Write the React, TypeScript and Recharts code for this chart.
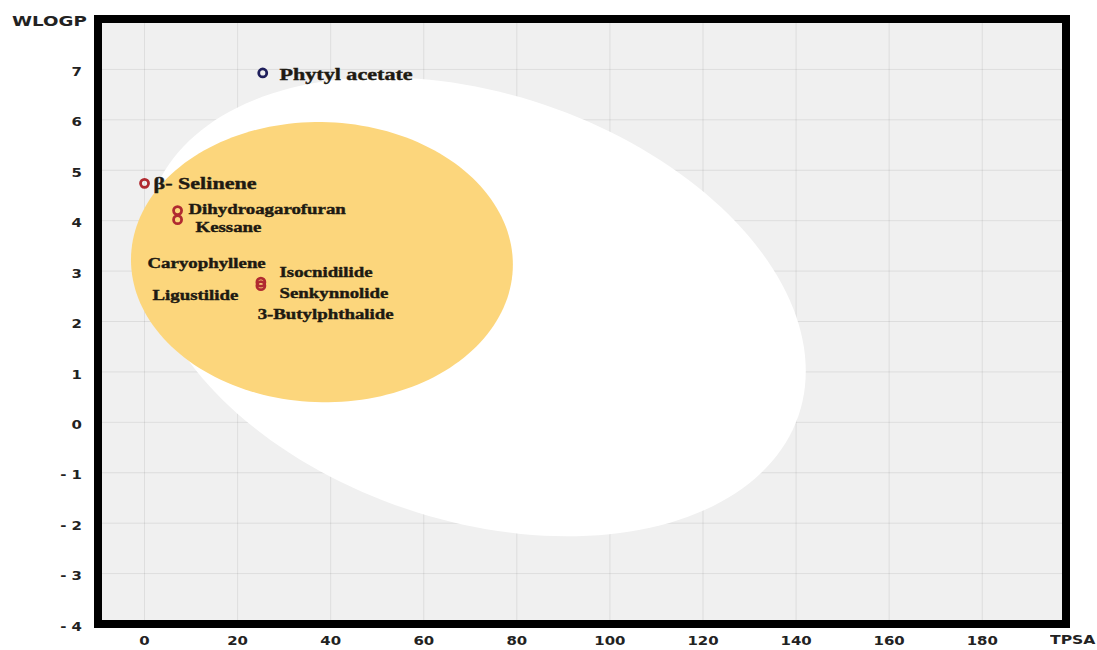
import React from 'react';
import { ScatterChart, Scatter, XAxis, YAxis, CartesianGrid, ReferenceArea } from 'recharts';

// TPSA / WLOGP of the plotted compounds
const compoundNames = ['Phytyl acetate', 'β- Selinene', 'Dihydroagarofuran', 'Kessane', 'Isocnidilide', 'Senkynnolide'];
const tpsaValues = [25.4, 0, 7.1, 7.1, 25.0, 25.0];
const wlogpValues = [6.93, 4.74, 4.2, 4.02, 2.78, 2.71];
const pgpSubstrate = [true, false, false, false, false, false];

// egg regions: centre, full axes and tilt (degrees) in TPSA/WLOGP units
const whiteEgg = { cx: 71.051, cy: 2.292, a: 142.081, b: 8.74, angle: -1.031325 };
const yolk = { cx: 38.117, cy: 3.177, a: 82.061, b: 5.557, angle: -0.066837 };

const xTicks = [0, 20, 40, 60, 80, 100, 120, 140, 160, 180];
const yTicks = [-4, -3, -2, -1, 0, 1, 2, 3, 4, 5, 6, 7];

// where the compound names are written (data units) and how large
const LABEL_SPOTS = [
  { text: 'Phytyl acetate', x: 29.0, y: 6.91, big: true },
  { text: 'β- Selinene', x: 1.93, y: 4.75, big: true },
  { text: 'Dihydroagarofuran', x: 9.45, y: 4.23 },
  { text: 'Kessane', x: 10.96, y: 3.86 },
  { text: 'Caryophyllene', x: 0.64, y: 3.16 },
  { text: 'Ligustilide', x: 1.72, y: 2.53 },
  { text: 'Isocnidilide', x: 29.0, y: 2.98 },
  { text: 'Senkynnolide', x: 29.0, y: 2.56 },
  { text: '3-Butylphthalide', x: 24.3, y: 2.15 },
];

const points = compoundNames.map((name, i) => ({
  name,
  x: tpsaValues[i],
  y: wlogpValues[i],
  pgp: pgpSubstrate[i],
}));

function outline(e: typeof whiteEgg) {
  const th = (e.angle * Math.PI) / 180;
  const pts = [];
  for (let i = 0; i <= 180; i++) {
    const t = (i / 180) * Math.PI * 2;
    const c = Math.cos(t) * (e.a / 2);
    const s = Math.sin(t) * (e.b / 2);
    pts.push({ x: e.cx + c * Math.cos(th) - s * Math.sin(th), y: e.cy + c * Math.sin(th) + s * Math.cos(th) });
  }
  return pts;
}

const whitePts = outline(whiteEgg);
const yolkPts = outline(yolk);

const TICK_FONT = '"DejaVu Sans", sans-serif';
const LABEL_FONT = '"Liberation Serif", "Times New Roman", serif';

const Nothing = () => <g />;

const XTick = ({ x, y, payload }: any) => (
  <text
    transform={`translate(${x},${y + 8}) scale(1.15,1)`}
    textAnchor="middle"
    dominantBaseline="central"
    fontFamily={TICK_FONT}
    fontWeight="bold"
    fontSize={13}
    fill="#222"
  >
    {payload.value}
  </text>
);

const YTick = ({ x, y, payload }: any) => {
  const v = payload.value;
  return (
    <text
      transform={`translate(${x - 8},${y + 2}) scale(1.15,1)`}
      textAnchor="end"
      dominantBaseline="central"
      fontFamily={TICK_FONT}
      fontWeight="bold"
      fontSize={13}
      fill="#222"
    >
      {v < 0 ? `- ${Math.abs(v)}` : `${v}`}
    </text>
  );
};

const Ring = ({ cx, cy, payload }: any) => (
  <circle cx={cx} cy={cy} r={4} fill="none" stroke={payload.pgp ? '#1f1f5c' : '#b02a30'} strokeWidth={2.8} />
);

const Caption = ({ cx, cy, payload }: any) => (
  <text
    transform={`translate(${cx},${cy}) scale(1.3,1)`}
    dominantBaseline="central"
    fontFamily={LABEL_FONT}
    fontWeight="bold"
    fontSize={payload.big ? 17 : 14.5}
    fill="#1e1a12"
    stroke="#1e1a12"
    strokeWidth={0.4}
  >
    {payload.text}
  </text>
);

export default function App() {
  return (
    <div style={{ position: 'absolute', left: 0, top: 0, background: '#fff' }}>
      <ScatterChart width={1097} height={650} margin={{ top: 19, right: 31, bottom: 0, left: 0 }}>
        <CartesianGrid horizontal={false} vertical={false} fill="#f0f0f0" />
        <XAxis
          type="number"
          dataKey="x"
          domain={[-10, 198]}
          ticks={xTicks}
          interval={0}
          allowDataOverflow
          height={26}
          axisLine={false}
          tickLine={false}
          tick={<XTick />}
        />
        <YAxis
          type="number"
          dataKey="y"
          domain={[-4, 8]}
          ticks={yTicks}
          interval={0}
          allowDataOverflow
          width={98}
          axisLine={false}
          tickLine={false}
          tick={<YTick />}
        />
        <Scatter data={whitePts} line={{ fill: '#ffffff', stroke: 'none' }} shape={Nothing} isAnimationActive={false} />
        <Scatter data={yolkPts} line={{ fill: '#fcd67c', stroke: 'none' }} shape={Nothing} isAnimationActive={false} />
        <CartesianGrid stroke="#000" strokeOpacity={0.08} />
        <Scatter data={points} shape={Ring} isAnimationActive={false} />
        <Scatter data={LABEL_SPOTS} shape={Caption} isAnimationActive={false} />
        <ReferenceArea x1={-10} x2={198} y1={-4} y2={8} fill="none" stroke="#000" strokeWidth={8} ifOverflow="visible" />
      </ScatterChart>
      <div
        style={{
          position: 'absolute',
          left: 12,
          top: 13,
          fontFamily: TICK_FONT,
          fontWeight: 'bold',
          fontSize: 14,
          color: '#222',
          transform: 'scaleX(1.3)',
          transformOrigin: 'left top',
        }}
      >
        WLOGP
      </div>
      <div
        style={{
          position: 'absolute',
          left: 1050,
          top: 632,
          fontFamily: TICK_FONT,
          fontWeight: 'bold',
          fontSize: 13,
          color: '#222',
          transform: 'scaleX(1.2)',
          transformOrigin: 'left top',
        }}
      >
        TPSA
      </div>
    </div>
  );
}
